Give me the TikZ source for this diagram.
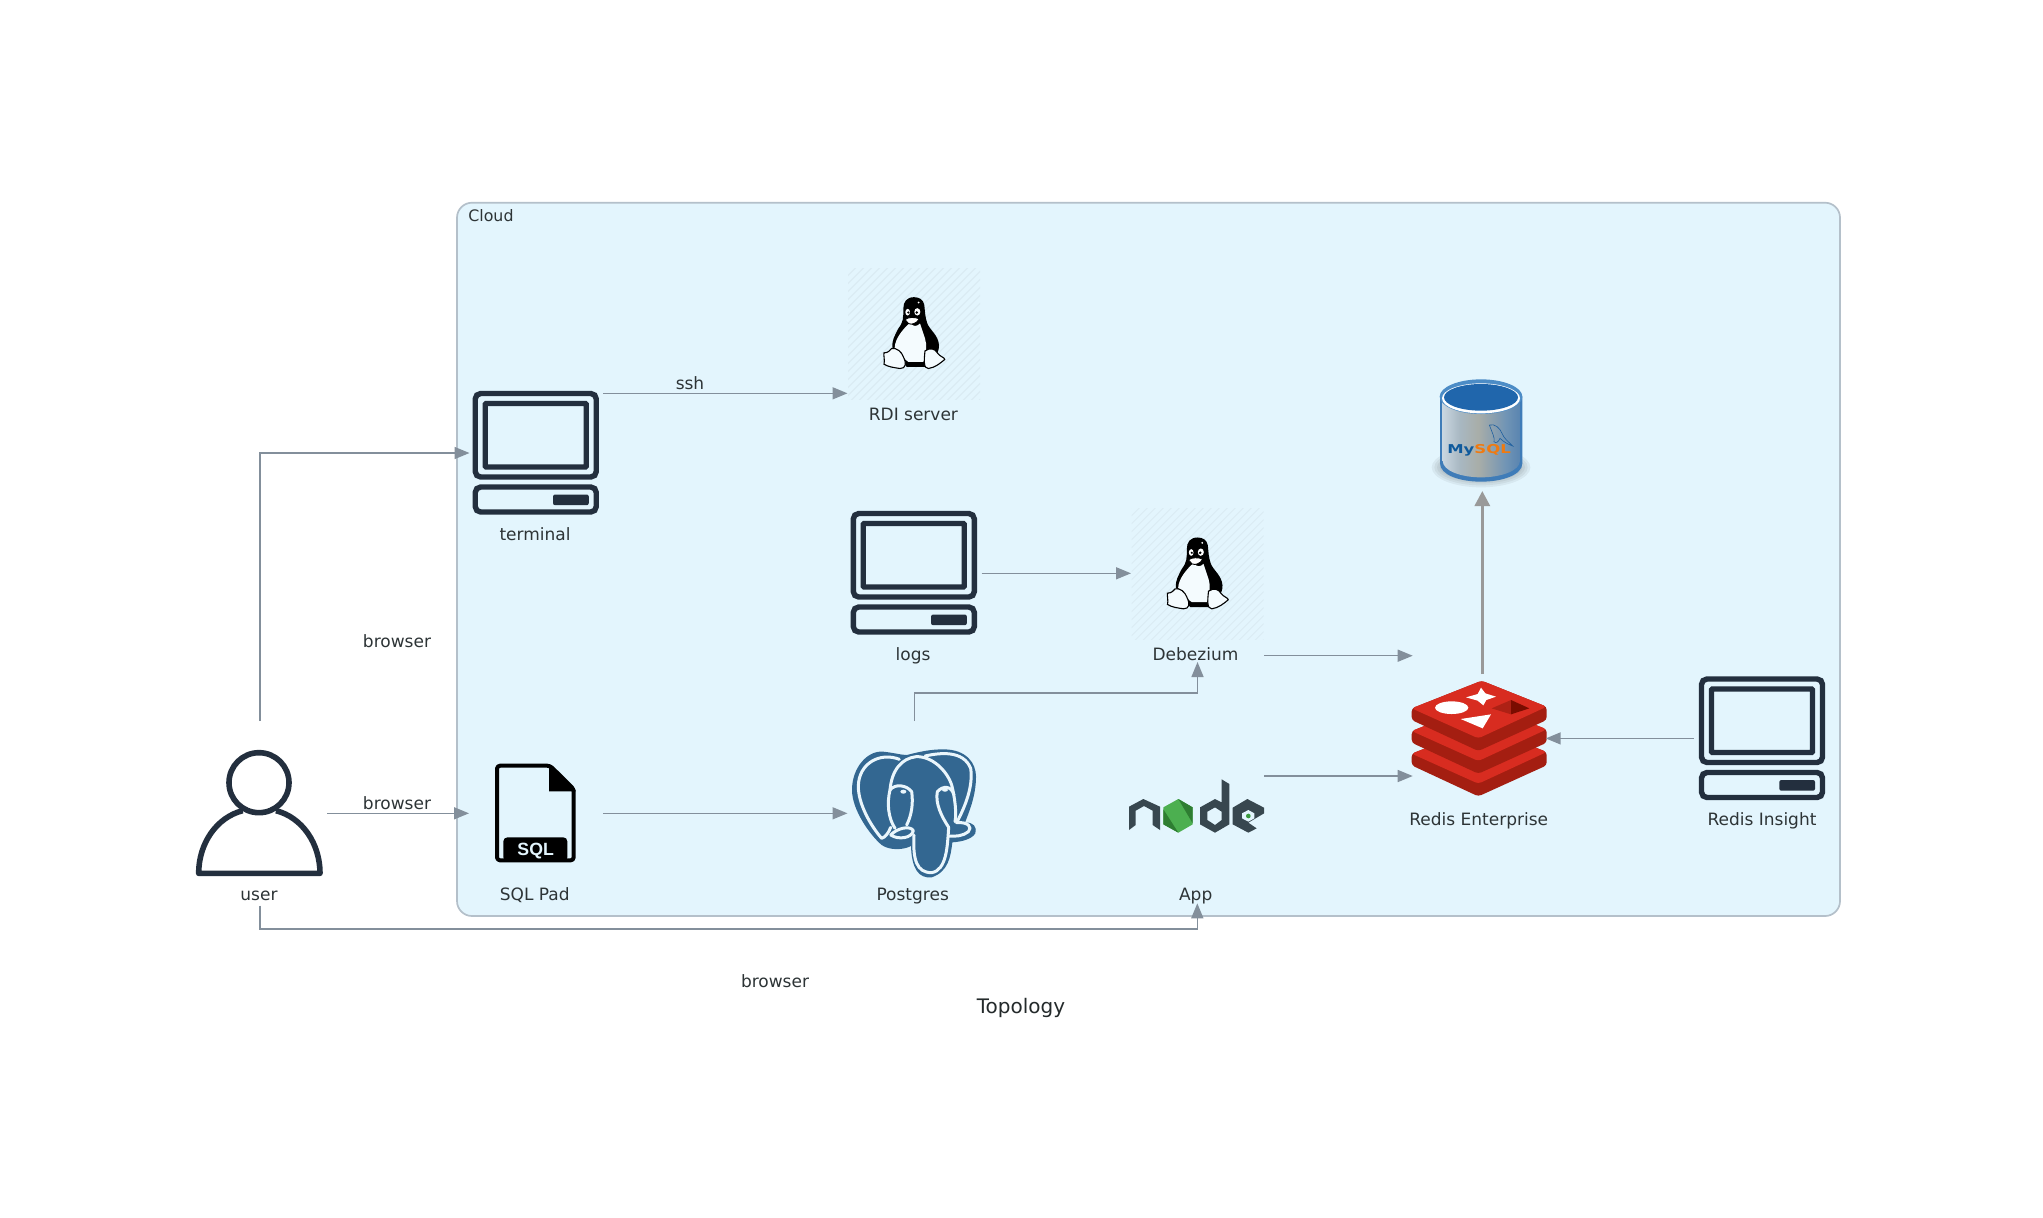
\documentclass[tikz,border=0pt]{standalone}
\usepackage{fontspec}
\setmainfont{DejaVu Sans}
\newfontfamily\sqlfont{Liberation Sans}
\usetikzlibrary{arrows.meta,calc}
\definecolor{ink}{HTML}{232F3E}
\definecolor{cloudbg}{HTML}{E3F5FD}
\definecolor{cloudln}{HTML}{B4C0CA}
\definecolor{conn}{HTML}{838F9B}
\definecolor{thick}{HTML}{999999}
\definecolor{lbl}{HTML}{2D3436}
\definecolor{hatch}{HTML}{D9EAF2}
\definecolor{pgblue}{HTML}{336791}
\definecolor{pgline}{HTML}{EAF6FC}
\definecolor{rlight}{HTML}{D82C20}
\definecolor{rdark}{HTML}{A41E11}
\definecolor{rshade}{HTML}{AD2115}
\definecolor{rdeep}{HTML}{7A0C00}
\definecolor{nodedark}{HTML}{38474F}
\definecolor{nodegreen}{HTML}{4CAF50}
\definecolor{nodedeep}{HTML}{2E7D32}
\definecolor{nodedot}{HTML}{3A9A3E}
\definecolor{myrim}{HTML}{4C8CC6}
\definecolor{myedge}{HTML}{3F7CB8}
\definecolor{myinner}{HTML}{2066AC}
\definecolor{myline}{HTML}{1F5F9F}
\pgfdeclarehorizontalshading{mysqlbody}{100bp}{
  rgb(0bp)=(0.28,0.52,0.75);
  rgb(10bp)=(0.48,0.66,0.81);
  rgb(24bp)=(0.80,0.85,0.89);
  rgb(36bp)=(0.66,0.72,0.76);
  rgb(48bp)=(0.66,0.68,0.66);
  rgb(66bp)=(0.44,0.58,0.71);
  rgb(90bp)=(0.20,0.42,0.66);
  rgb(100bp)=(0.16,0.41,0.68)}
\tikzset{
  conn/.style={draw=conn,line width=.75pt,-{Triangle[length=7.5pt,width=6pt]}},
  heavy/.style={draw=thick,line width=1.5pt,-{Triangle[length=7.5pt,width=7.5pt]}},
  box/.style={inner sep=0pt,outer sep=0pt,minimum width=#1,rectangle},
  lab/.style={text=lbl,inner sep=0pt,anchor=base,font=\fontsize{8.5}{10}\selectfont},
  computer/.pic={
    \draw[ink,line width=2.7pt,rounded corners=2.7pt] (-60.5,-59.5) rectangle (60.5,24);
    \draw[ink,line width=2.7pt,rounded corners=2.7pt] (-60.5,34) rectangle (60.5,59);
    \draw[ink,line width=2.6pt,rounded corners=.4pt] (-50.5,-49.5) rectangle (50.5,14);
    \fill[ink,rounded corners=1pt] (17.3,41.5) rectangle (53,52.2);
  },
  tuxtile/.pic={
    \begin{scope}
      \clip (-66,-65.5) rectangle (66,65.5);
      \foreach \k in {-140,-132,...,140} \draw[hatch,line width=.4pt] (\k-70,70) -- (\k+70,-70);
    \end{scope}
    \begin{scope}[shift={(-74,-73.33)},x=.16667pt,y=-.16667pt]
      \fill[black] (222,111) .. controls (200,111) and (190,125) .. (190,145) .. controls (190,175) and (190,185) .. (175,205) .. controls (165,225) and (155,240) .. (157,262) -- (200,320) -- (255,320) .. controls (285,290) and (297,280) .. (297,255) .. controls (295,225) and (270,210) .. (262,190) .. controls (255,170) and (255,155) .. (253,135) .. controls (250,118) and (238,111) .. (222,111) -- cycle;
      \fill[cloudbg!40!white] (210,188) .. controls (190,205) and (165,235) .. (164,262) .. controls (180,280) and (195,300) .. (205,305) -- (250,305) .. controls (258,280) and (262,255) .. (255,235) .. controls (250,220) and (245,205) .. (240,190) .. controls (230,200) and (220,200) .. (210,188) -- cycle;
      \fill[white] (203,156) ellipse[x radius=7,y radius=10];
      \fill[white] (232,155) ellipse[x radius=9,y radius=11];
      \fill[black] (205,157) circle[radius=3.6];
      \fill[black] (230,157) circle[radius=4.2];
      \fill[white] (236,127) circle[radius=3];
      \draw[black,line width=.45pt,fill=white] (195,178) .. controls (205,170) and (225,170) .. (238,176) .. controls (230,190) and (215,195) .. (205,190) -- cycle;
      \draw[black,line width=.55pt,fill=cloudbg!40!white] (155,265) .. controls (170,262) and (185,275) .. (190,290) .. controls (200,310) and (198,325) .. (180,325) .. controls (160,322) and (145,320) .. (132,312) .. controls (135,300) and (130,285) .. (132,278) .. controls (145,278) and (150,270) .. (155,265) -- cycle;
      \draw[black,line width=.55pt,fill=cloudbg!40!white] (255,272) .. controls (270,262) and (285,265) .. (292,278) .. controls (300,290) and (315,292) .. (314,298) .. controls (300,310) and (285,322) .. (265,325) .. controls (250,325) and (252,300) .. (255,272) -- cycle;
    \end{scope}
  },
  redislayer/.pic={
    \fill[rdark,rounded corners=1.6pt] (5,115) -- (5,150) -- (205,243) -- (410,150) -- (410,110) -- (215,32) -- cycle;
    \fill[rlight,rounded corners=1.6pt] (5,115) -- (215,32) -- (410,110) -- (205,205) -- cycle;
  }
}
\begin{document}
\begin{tikzpicture}[x=.5pt,y=-.5pt]
\useasboundingbox (0,0) rectangle (2043,1217);
\fill[white] (0,0) rectangle (2043,1217);
% cluster
\draw[cloudln,line width=.85pt,fill=cloudbg,rounded corners=7.5pt] (457,202.7) rectangle (1840,916);
\node[anchor=base west,text=lbl,inner sep=0pt,font=\fontsize{7.9}{10}\selectfont] (cloudlabel) at (468,221) {Cloud};

% icon boxes used as connector ends
\node[box=66.75pt,minimum height=66pt] (terminal) at (536.25,453) {};
\node[box=66.25pt,minimum height=63.15pt] (rdi) at (913.75,330.15) {};
\node[box=65.75pt,minimum height=66pt] (logs) at (915.75,573.3) {};
\node[box=66.5pt,minimum height=88.5pt] (debezium) at (1197.5,573.5) {};
\node[box=66.5pt,minimum height=64.4pt] (redis) at (1479.2,738.4) {};
\node[box=66.5pt,minimum height=66pt] (insight) at (1760,738.4) {};
\node[box=40pt,minimum height=55.5pt] (mysql) at (1482.3,435.5) {};
\node[box=67pt,minimum height=92.3pt] (user) at (260,813.3) {};
\node[box=67pt,minimum height=66pt] (sqlpad) at (536,813.3) {};
\node[box=67pt,minimum height=92.3pt] (postgres) at (914.5,813.3) {};
\node[box=66.5pt,minimum height=90pt] (app) at (1197.3,813.3) {};
\coordinate (debout) at (1264,655.7);
\coordinate (appout) at (1264,776);

% tiles
\pic at (914,333.5) {tuxtile};
\pic at (1197.5,573.8) {tuxtile};
% computers
\pic at (535.75,453) {computer};
\pic at (913.8,573) {computer};
\pic at (1762,738.5) {computer};

% user icon
\begin{scope}[shift={(170,720)},x=.16667pt,y=-.16667pt]
  \draw[ink,line width=2.8pt] (267,188) circle[radius=90];
  \draw[ink,line width=2.8pt,line join=round] (217.8,272) .. controls (139.8,292) and (86,370) .. (86,460) -- (450,460) .. controls (450,370) and (396.2,292) .. (318.2,272);
\end{scope}

% SQL document
\begin{scope}[shift={(170,720)},x=.16667pt,y=-.16667pt]
  \draw[black,line width=2pt,rounded corners=1.5pt,line join=round] (1140,137) -- (981,137) -- (981,421) -- (1211,421) -- (1211,207) -- cycle;
  \fill[black] (1137,137) -- (1217,210) -- (1217,214) -- (1137,214) -- cycle;
  \fill[black,rounded corners=2pt] (1000,424) -- (1000,352) -- (1192,352) -- (1192,424) -- cycle;
  \node[text=cloudbg,inner sep=0pt,font=\sqlfont\bfseries\fontsize{8.85}{10}\selectfont] (sqltext) at (1097,392) {SQL};
\end{scope}

% Postgres elephant
\begin{scope}[shift={(840,740)},x=.16667pt,y=-.16667pt]
  \fill[pgblue] (36,150) .. controls (36,80) and (85,30) .. (130,35) .. controls (160,38) and (185,45) .. (200,45) .. controls (240,35) and (270,28) .. (310,28) .. controls (380,28) and (408,70) .. (408,110) .. controls (408,170) and (385,220) .. (375,248) .. controls (400,245) and (412,262) .. (406,280) .. controls (395,298) and (365,305) .. (337,307) .. controls (332,350) and (325,395) .. (275,412) .. controls (235,416) and (215,385) .. (213,318) .. controls (190,330) and (150,332) .. (125,315) .. controls (90,285) and (36,210) .. (36,150) -- cycle;
  \begin{scope}[draw=pgline,line width=1.5pt,line cap=round,line join=round]
    \draw (178,58) .. controls (120,35) and (55,70) .. (55,140) .. controls (55,190) and (90,255) .. (125,295) .. controls (135,292) and (145,280) .. (152,262);
    \draw (150,150) .. controls (155,90) and (185,55) .. (228,50) .. controls (275,48) and (320,90) .. (335,135) .. controls (345,175) and (350,220) .. (345,245);
    \draw (255,48) .. controls (300,38) and (370,30) .. (392,85) .. controls (400,140) and (375,200) .. (350,248) .. controls (385,245) and (398,262) .. (385,275) .. controls (370,288) and (345,290) .. (325,288);
    \draw (150,150) .. controls (165,130) and (200,135) .. (215,155) .. controls (220,190) and (215,225) .. (200,255);
    \draw (150,150) .. controls (140,190) and (145,235) .. (165,265);
    \draw (152,285) .. controls (170,265) and (210,255) .. (220,272) .. controls (215,295) and (175,300) .. (152,285);
    \draw (222,285) .. controls (218,360) and (230,398) .. (275,398) .. controls (320,390) and (322,320) .. (326,262);
    \draw (326,262) .. controls (305,230) and (285,190) .. (292,155) .. controls (310,135) and (335,138) .. (342,165);
  \end{scope}
  \fill[pgline] (190,155) ellipse[x radius=9,y radius=6];
  \fill[pgline] (315,150) ellipse[x radius=9,y radius=5];
\end{scope}

% Node.js logo
\begin{scope}[shift={(1120,770)},x=.16667pt,y=-.16667pt]
  \fill[nodedark] (27,110) -- (70,87) -- (120,110) -- (120,180) -- (98,165) -- (98,122) -- (72,108) -- (47,122) -- (47,165) -- (27,180) -- cycle;
  \fill[nodegreen] (175,87) -- (218,112) -- (218,163) -- (175,188) -- (130,163) -- (130,112) -- cycle;
  \fill[nodedeep] (175,87) -- (218,112) -- (218,160) -- cycle;
  \fill[nodedeep] (130,118) -- (175,188) -- (130,163) -- cycle;
  \fill[nodedark,even odd rule] (305,28) -- (328,42) -- (328,163) -- (285,188) -- (240,163) -- (240,112) -- (285,87) -- (305,97) -- cycle (285,112) -- (262,125) -- (262,150) -- (285,165) -- (305,150) -- (305,125) -- cycle;
  \fill[nodedark] (338,113) -- (382,87) -- (432,113) -- (432,130) -- (385,158) -- (410,175) -- (385,188) -- (338,163) -- cycle;
  \fill[cloudbg] (385,120) -- (403,130) -- (403,145) -- (385,155) -- (366,145) -- (366,130) -- cycle;
  \fill[nodedot] (385,138) circle[radius=7];
\end{scope}

% Redis logo
\begin{scope}[shift={(1410,670)},x=.16667pt,y=-.16667pt]
  \pic at (0,136) {redislayer};
  \pic at (0,68) {redislayer};
  \pic at (0,0) {redislayer};
  \fill[white] (125,113) ellipse[x radius=50,y radius=19];
  \fill[white] (168,82) -- (203,72) -- (213,53) -- (226,70) -- (258,80) -- (229,90) -- (220,106) -- (203,92) -- cycle;
  \fill[white] (152,147) -- (243,133) -- (218,175) -- cycle;
  \fill[rshade] (245,115) -- (303,90) -- (303,133) -- cycle;
  \fill[rdeep] (303,90) -- (358,115) -- (303,133) -- cycle;
\end{scope}

% MySQL cylinder
\begin{scope}[shift={(1420,370)},x=.16667pt,y=-.16667pt]
  \foreach \r/\h in {148/60,140/54,132/48,124/42} {
    \fill[black,opacity=.05] (183,292) ellipse[x radius=\r,y radius=\h];
  }
  \fill[myedge] (60,80) -- (60,280) .. controls (60,315) and (120,335) .. (183,335) .. controls (246,335) and (307,315) .. (307,280) -- (307,80) -- cycle;
  \shade[shading=mysqlbody] (68,80) -- (68,272) .. controls (68,303) and (125,322) .. (183,322) .. controls (241,322) and (300,303) .. (300,272) -- (300,80) -- cycle;
  \fill[myrim] (183,80) ellipse[x radius=124,y radius=52];
  \fill[white] (183,85) ellipse[x radius=117,y radius=45];
  \fill[myinner] (183,82) ellipse[x radius=111,y radius=40];
  \node[inner sep=0pt,xscale=1.35,font=\bfseries\fontsize{6.1}{8}\selectfont] (mysqltext) at (177,241) {\textcolor[HTML]{0F5A9C}{My}\textcolor[HTML]{F07A10}{SQL}};
  \draw[myline,line width=.3pt] (208,165) .. controls (225,160) and (240,175) .. (246,190) .. controls (252,205) and (262,212) .. (278,228) .. controls (262,222) and (250,215) .. (240,205) .. controls (236,215) and (228,222) .. (222,215) .. controls (226,205) and (215,185) .. (208,165);
\end{scope}

% connectors
\draw[conn] (user.north) |- (terminal.west);
\draw[conn] (terminal.east |- rdi.south west) -- (rdi.south west);
\draw[conn] (user.east) -- (sqlpad.west);
\draw[conn] (sqlpad.east) -- (postgres.west);
\draw[conn] (logs.east) -- (logs.east -| debezium.west);
\draw[conn] (postgres.north) -- ++(0,-28) -| (debezium.south);
\draw[conn] (debout) -- (debout -| redis.west);
\draw[conn] (appout) -- (appout -| redis.west);
\draw[conn] (insight.west) -- (redis.east);
\draw[conn] (user.south) -- ++(0,23.5) -| (app.south);
\draw[heavy] (mysql.south |- redis.north) -- (mysql.south);

% labels
\node[lab] (lterminal) at (535,540) {terminal};
\node[lab] (lrdi) at (913.4,420) {RDI server};
\node[lab] (llogs) at (913,660) {logs};
\node[lab] (ldebezium) at (1195.5,660) {Debezium};
\node[lab] (lredis) at (1478.7,825) {Redis Enterprise};
\node[lab] (linsight) at (1762,825) {Redis Insight};
\node[lab] (luser) at (259,900) {user};
\node[lab] (lsql) at (534.7,900) {SQL Pad};
\node[lab] (lpostgres) at (912.7,900) {Postgres};
\node[lab] (lapp) at (1195.7,900) {App};
\node[lab] (essh) at (690,389.3) {ssh};
\node[lab] (ebrowserA) at (397,647.3) {browser};
\node[lab] (ebrowserB) at (397,809.3) {browser};
\node[lab] (ebrowserC) at (775,987.3) {browser};
\node[inner sep=0pt,anchor=base,text=lbl!80!black,font=\fontsize{10}{12}\selectfont] (title) at (1021,1013) {Topology};
\end{tikzpicture}
\end{document}
